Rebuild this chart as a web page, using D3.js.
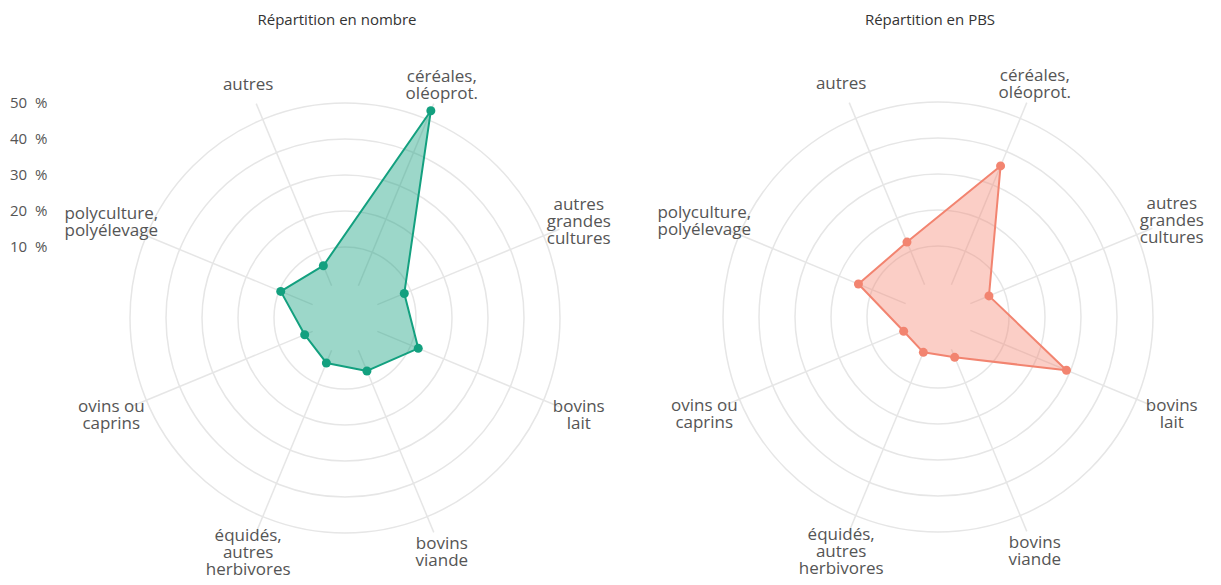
<!DOCTYPE html>
<html>
<head>
<meta charset="utf-8">
<script src="https://cdn.jsdelivr.net/npm/d3@7"></script>
<style>
  body { margin: 0; background: #fff; }
  svg text { font-family: "Open Sans", sans-serif; fill: #555; }
</style>
</head>
<body>
<svg id="chart" width="1221" height="585"></svg>
<script>
// categories, clockwise starting from the top-right spoke
var categories = [
    ["céréales,", "oléoprot."],
    ["autres", "grandes", "cultures"],
    ["bovins", "lait"],
    ["bovins", "viande"],
    ["équidés,", "autres", "herbivores"],
    ["ovins ou", "caprins"],
    ["polyculture,", "polyélevage"],
    ["autres"]
];

// share in %
var nombreValues = [52.6, 8.1, 12.3, 6.2, 3.8, 2.4, 9.6, 6.0];
var pbsValues = [35.7, 5.6, 28.9, 2.4, 0.9, 0.6, 14.2, 12.8];

var ringTicks = [10, 20, 30, 40, 50];
var titles = ["Répartition en nombre", "Répartition en PBS"];

var svg = d3.select("#chart");

// radial scale: 0 % sits on a small inner hole
var r = d3.scaleLinear()
    .domain([0, 50])
    .range([35, 215]);

var angle = d3.scaleBand()
    .domain(d3.range(categories.length))
    .range([0, 2 * Math.PI]);

function a(i) { return angle(i) + Math.PI / 8; }

function drawRadar(cx, cy, values, title, stroke, fill, showTicks) {
    var g = svg.append("g").attr("transform", "translate(" + cx + "," + cy + ")");

    // rings
    g.selectAll(".ring")
        .data(ringTicks)
        .enter()
        .append("circle")
        .attr("r", function (d) { return r(d); })
        .attr("fill", "none")
        .attr("stroke", "#e6e6e6")
        .attr("stroke-width", 1.5);

    // spokes
    g.selectAll(".spoke")
        .data(categories)
        .enter()
        .append("line")
        .attr("x1", function (d, i) { return Math.sin(a(i)) * r(0); })
        .attr("y1", function (d, i) { return -Math.cos(a(i)) * r(0); })
        .attr("x2", function (d, i) { return Math.sin(a(i)) * (r.range()[1] + 17); })
        .attr("y2", function (d, i) { return -Math.cos(a(i)) * (r.range()[1] + 17); })
        .attr("stroke", "#e6e6e6")
        .attr("stroke-width", 1.5);

    // area
    var line = d3.lineRadial()
        .angle(function (d, i) { return a(i); })
        .radius(function (d) { return r(d); })
        .curve(d3.curveLinearClosed);

    g.append("path")
        .datum(values)
        .attr("d", line)
        .attr("fill", fill)
        .attr("stroke", stroke)
        .attr("stroke-width", 2)
        .attr("stroke-linejoin", "round");

    g.selectAll(".dot")
        .data(values)
        .enter()
        .append("circle")
        .attr("cx", function (d, i) { return Math.sin(a(i)) * r(d); })
        .attr("cy", function (d, i) { return -Math.cos(a(i)) * r(d); })
        .attr("r", 4.5)
        .attr("fill", stroke);

    // category labels
    var labelR = r.range()[1] + 38;
    var lh = 17;
    var lab = g.selectAll(".lab")
        .data(categories)
        .enter()
        .append("text")
        .attr("text-anchor", "middle")
        .style("font-size", "17px")
        .attr("transform", function (d, i) {
            var x = Math.sin(a(i)) * labelR;
            var y = -Math.cos(a(i)) * labelR - (d.length - 1) * lh / 2;
            return "translate(" + x + "," + y + ")";
        });
    lab.selectAll("tspan")
        .data(function (d) { return d; })
        .enter()
        .append("tspan")
        .attr("x", 0)
        .attr("y", function (d, i) { return i * lh; })
        .attr("dy", "0.35em")
        .text(function (d) { return d; });

    // title
    svg.append("text")
        .attr("x", cx - 8)
        .attr("y", 20)
        .attr("text-anchor", "middle")
        .attr("dy", "0.35em")
        .style("font-size", "15px")
        .style("fill", "#333")
        .text(title);

    if (showTicks) {
        svg.selectAll(".tick")
            .data(ringTicks)
            .enter()
            .append("text")
            .attr("x", 10)
            .attr("y", function (d) { return cy - r(d); })
            .attr("dy", "0.35em")
            .style("font-size", "15px")
            .text(function (d) { return d + "\u00a0 %"; });
    }
}

drawRadar(345, 318, nombreValues, titles[0], "#13a07f", "rgba(19,160,127,0.42)", true);
drawRadar(938, 317, pbsValues, titles[1], "#f28470", "rgba(246,132,112,0.40)", false);
</script>
</body>
</html>
